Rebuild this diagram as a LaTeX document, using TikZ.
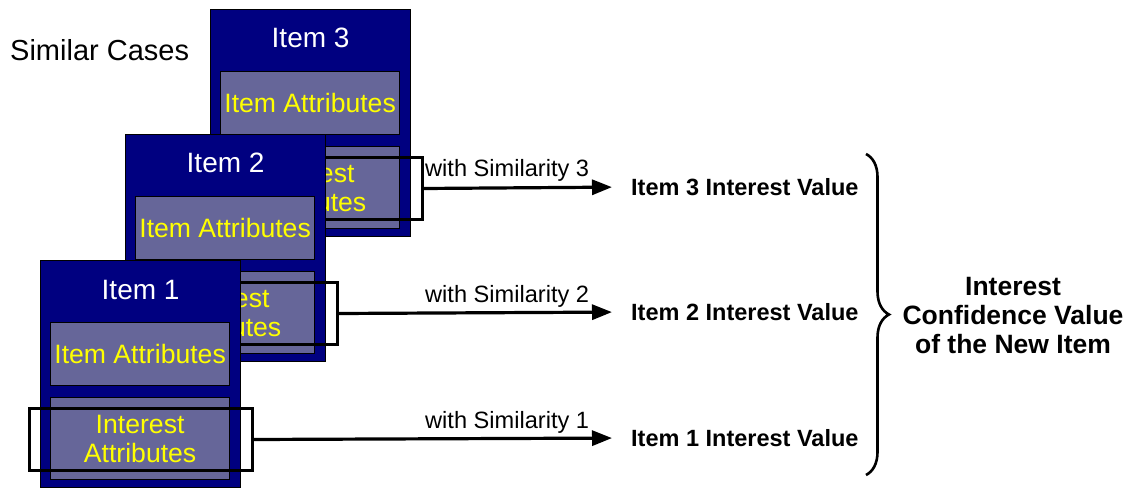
\documentclass[tikz,border=0pt]{standalone}
\usepackage{fontspec}
\setmainfont{Liberation Sans}
\usetikzlibrary{arrows.meta,decorations.pathreplacing}

\definecolor{cardnavy}{HTML}{000080}
\definecolor{slotgray}{HTML}{666699}
\definecolor{attryellow}{HTML}{FFFF00}

\tikzset{
  card/.style={draw=black, line width=1.2pt, fill=cardnavy, anchor=north west,
    inner sep=0pt, minimum width=200pt, minimum height=227pt},
  cardtitle/.style={text=white, inner sep=0pt, font=\fontsize{28}{30}\selectfont},
  slot/.style={draw=black, line width=1.2pt, fill=slotgray, anchor=north west,
    inner sep=0pt, minimum width=179pt, text=attryellow, align=center,
    font=\fontsize{26.6}{29}\selectfont},
  pick/.style={draw=black, line width=3pt, anchor=north west, inner sep=0pt,
    minimum width=223pt, minimum height=62pt},
  flow/.style={draw=black, line width=3.2pt, shorten >=19pt,
    -{Triangle[length=20pt,width=15pt]}},
  simlabel/.style={anchor=base west, inner sep=0pt, font=\fontsize{23.6}{26}\selectfont},
  valuelabel/.style={anchor=west, inner sep=0pt, font=\bfseries\fontsize{23.5}{26}\selectfont},
  conclusion/.style={align=center, inner sep=0pt, font=\bfseries\fontsize{26.5}{29}\selectfont},
  bracestyle/.style={draw=black, line width=2.6pt,
    decorate, decoration={brace, amplitude=23pt}},
}

\begin{document}
\begin{tikzpicture}[x=1pt, y=-1pt]
  \useasboundingbox (0,0) rectangle (1132,489);

  \node[anchor=west, inner sep=0pt, font=\fontsize{29}{32}\selectfont] (heading) at (10,50) {Similar Cases};

  % third case (back of the stack)
  \node[card] (c3) at (210,9) {};
  \node[cardtitle] (t3) at ([yshift=-29pt]c3.north) {Item 3};
  \node[slot, minimum height=63pt] (a3) at ([xshift=10pt,yshift=-62pt]c3.north west) {Item Attributes};
  \node[slot, minimum height=82pt] (i3) at ([xshift=10pt,yshift=-137pt]c3.north west) {Interest\\Attributes};
  \node[pick] (o3) at ([xshift=-12pt,yshift=-147pt]c3.north west) {};

  % second case
  \node[card] (c2) at (125,134) {};
  \node[cardtitle] (t2) at ([yshift=-29pt]c2.north) {Item 2};
  \node[slot, minimum height=63pt] (a2) at ([xshift=10pt,yshift=-62pt]c2.north west) {Item Attributes};
  \node[slot, minimum height=82pt] (i2) at ([xshift=10pt,yshift=-137pt]c2.north west) {Interest\\Attributes};
  \node[pick] (o2) at ([xshift=-12pt,yshift=-147pt]c2.north west) {};

  % first case (front of the stack)
  \node[card] (c1) at (40,260) {};
  \node[cardtitle] (t1) at ([yshift=-30pt]c1.north) {Item 1};
  \node[slot, minimum height=63pt] (a1) at ([xshift=10pt,yshift=-62pt]c1.north west) {Item Attributes};
  \node[slot, minimum height=82pt] (i1) at ([xshift=10pt,yshift=-137pt]c1.north west) {Interest\\Attributes};
  \node[pick] (o1) at ([xshift=-12pt,yshift=-147pt]c1.north west) {};

  % interest values
  \node[valuelabel] (v3) at (631,187) {Item 3 Interest Value};
  \node[valuelabel] (v2) at (631,312) {Item 2 Interest Value};
  \node[valuelabel] (v1) at (631,438) {Item 1 Interest Value};

  \draw[flow] (o3.east) -- (v3.west);
  \draw[flow] (o2.east) -- (v2.west);
  \draw[flow] (o1.east) -- (v1.west);

  \node[simlabel] (s3) at (425,177) {with Similarity 3};
  \node[simlabel] (s2) at (425,302) {with Similarity 2};
  \node[simlabel] (s1) at (425,428) {with Similarity 1};

  % combining brace and result
  \coordinate (btop) at (866,154);
  \coordinate (bbot) at (866,475);
  \draw[bracestyle] (btop) -- (bbot);

  \node[conclusion] (res) at (1013,316) {Interest\\Confidence Value\\of the New Item};
\end{tikzpicture}
\end{document}
